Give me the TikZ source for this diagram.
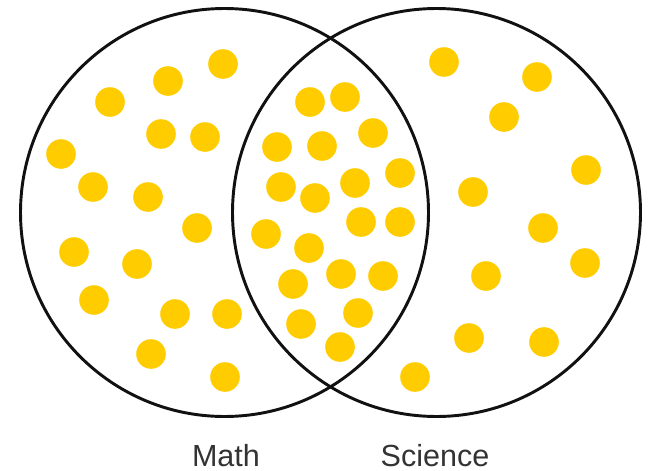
\documentclass[tikz,border=0pt]{standalone}
\usepackage{fontspec}
\setmainfont{Liberation Sans}
\usetikzlibrary{positioning}
\definecolor{dotgold}{HTML}{FFCC00}
\definecolor{ringblack}{HTML}{111111}
\definecolor{labelgray}{HTML}{333333}

\begin{document}
\begin{tikzpicture}[x=0.75pt, y=-0.75pt,
  setring/.style={
    circle, draw=ringblack, line width=2.2pt, minimum size=306pt, inner sep=0pt
  },
  dotfill/.style={fill=dotgold},
  setlabel/.style={
    text=labelgray, anchor=base, inner sep=0pt,
    font=\fontsize{22.9}{27}\selectfont
  }]

% Frame of the picture
\useasboundingbox (0,0) rectangle (650,471);

% --- Dots: Math only ---
\foreach \px/\py in {223/64, 168/81, 110/102, 161/134, 205/137, 61/154,
    93/187, 148/197, 197/228, 74/252, 137/264, 94/300, 175/314, 227/314,
    151/354, 225/377}
  \fill[dotfill] (\px,\py) circle[radius=11.1pt];

% --- Dots: both ---
\foreach \px/\py in {310/102, 345/97, 373/133, 277/147, 322/146, 400/173,
    281/187, 355/183, 315/198, 361/222, 400/222, 266/234, 309/248, 341/274,
    383/276, 293/284, 358/313, 301/324, 340/347}
  \fill[dotfill] (\px,\py) circle[radius=11.1pt];

% --- Dots: Science only ---
\foreach \px/\py in {444/62, 537/77, 504/117, 586/170, 473/192, 543/228,
    585/263, 486/276, 469/338, 544/342, 415/377}
  \fill[dotfill] (\px,\py) circle[radius=11.1pt];

% --- Sets ---
\node[setring] (math) at (224.5,212.5) {};
\node[setring] (science) at (436.5,212.5) {};

% --- Labels ---
\node[setlabel] (mathlabel) at (226,466.7) {Math};
\node[setlabel] (sciencelabel) at (435,466.7) {Science};

\end{tikzpicture}
\end{document}
